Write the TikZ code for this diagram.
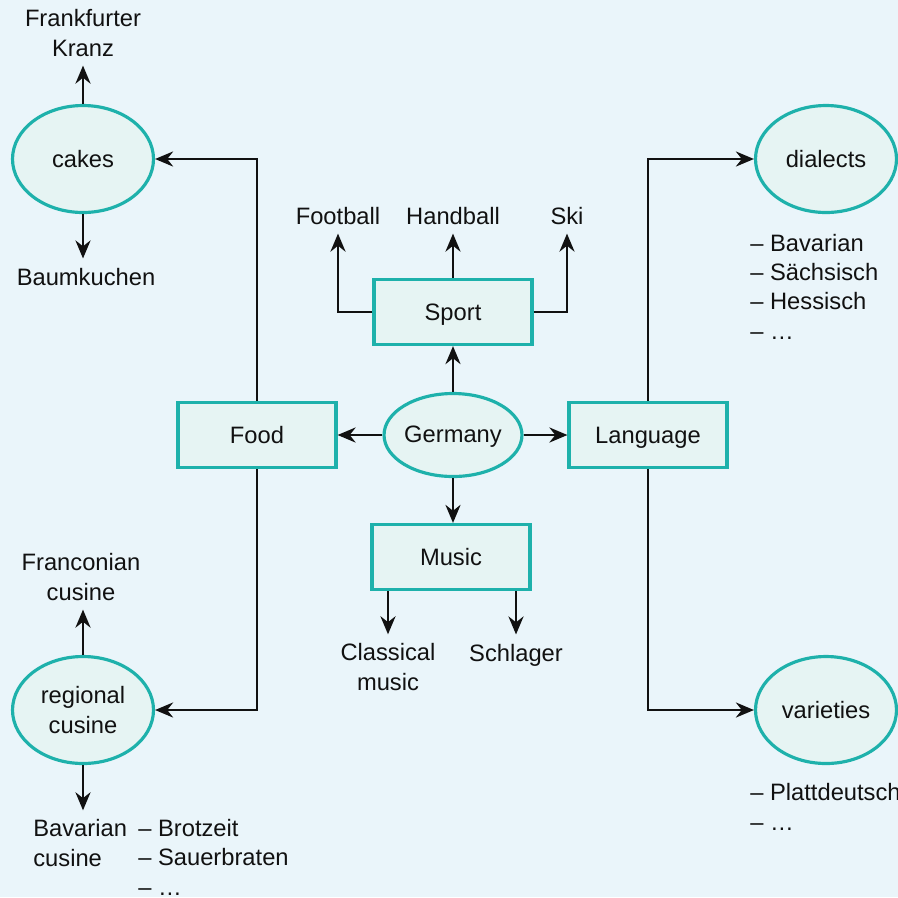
\documentclass[tikz,border=0pt]{standalone}
\usepackage{fontspec}
\setmainfont{Liberation Sans}
\usepackage{tikz}
\usetikzlibrary{shapes.geometric, arrows.meta, positioning}
\definecolor{bgblue}{HTML}{EAF5FA}
\definecolor{tealline}{HTML}{1EB1AB}
\definecolor{boxfill}{HTML}{E6F4F3}
\definecolor{inkblack}{HTML}{111111}

\begin{document}
\begin{tikzpicture}[x=0.02cm,y=-0.02cm,
  every node/.style={font=\fontsize{13.5}{16.6}\selectfont, text=inkblack},
  topic/.style={draw=tealline, line width=1.8pt, fill=boxfill, minimum width=3.16cm, minimum height=1.3cm, inner sep=0pt, text height=0.92em, text depth=0pt},
  blob/.style={ellipse, draw=tealline, line width=1.8pt, fill=boxfill, minimum width=2.82cm, minimum height=2.14cm, inner sep=0pt, align=center},
  leaf/.style={anchor=base, align=center, inner sep=0.18cm},
  items/.style={anchor=base west, align=left, inner sep=0pt},
  arr/.style={-{Stealth[length=0.36cm,width=0.3cm]}, line width=1.6pt, draw=inkblack}]

\fill[bgblue] (0,0) rectangle (898,897);
\useasboundingbox (0,0) rectangle (898,897);

\node[topic] (sport) at (453,312) {Sport};
\node[blob, minimum width=2.74cm, minimum height=1.66cm, text height=0.88em, text depth=0pt] (germany) at (453,435) {Germany};
\node[topic] (food) at (257,435) {Food};
\node[topic] (language) at (648,435) {Language};
\node[topic] (music) at (451,557) {Music};

\node[blob] (cakes) at (83,159) {cakes};
\node[blob] (dialects) at (826,159) {dialects};
\node[blob] (regional) at (83,710) {regional\\cusine};
\node[blob] (varieties) at (826,710) {varieties};

% multi-line labels sit on their last baseline
\node[leaf] (frankfurter) at (83,56) {Frankfurter\\Kranz};
\node[leaf] (baumkuchen) at (86,285) {Baumkuchen};
\node[leaf] (football) at (338,224) {Football};
\node[leaf] (handball) at (453,224) {Handball};
\node[leaf] (ski) at (567,224) {Ski};
\node[leaf] (classical) at (388,690) {Classical\\music};
\node[leaf] (schlager) at (516,661) {Schlager};
\node[leaf] (franconian) at (81,600) {Franconian\\cusine};
\node[leaf, anchor=base west, align=left] (bavarian) at (24,866) {Bavarian\\cusine};

\node[items] (brotzeit) at (138,895) {-- Brotzeit\\-- Sauerbraten\\-- …};
\node[items] (dialectlist) at (750,339) {-- Bavarian\\-- Sächsisch\\-- Hessisch\\-- …};
\node[items] (varietylist) at (750,830) {-- Plattdeutsch\\-- …};

\draw[arr] (germany) -- (sport);
\draw[arr] (germany) -- (food);
\draw[arr] (germany) -- (language);
\draw[arr] (germany.south) -- (germany.south |- music.north);
\draw[arr] (sport) -- (handball);
\draw[arr] (sport.west) -| (football);
\draw[arr] (sport.east) -| (ski);
\draw[arr] (music.south -| classical) -- (classical);
\draw[arr] (music.south -| schlager) -- (schlager);
\draw[arr] (food.north) |- (cakes);
\draw[arr] (food.south) |- (regional);
\draw[arr] (language.north) |- (dialects);
\draw[arr] (language.south) |- (varieties);
\draw[arr] (cakes) -- (frankfurter);
\draw[arr] (cakes.south) -- (cakes.south |- baumkuchen.north);
\draw[arr] (regional.north) -- (regional.north |- franconian.south);
\draw[arr] (regional.south) -- (regional.south |- bavarian.north);
\end{tikzpicture}
\end{document}
